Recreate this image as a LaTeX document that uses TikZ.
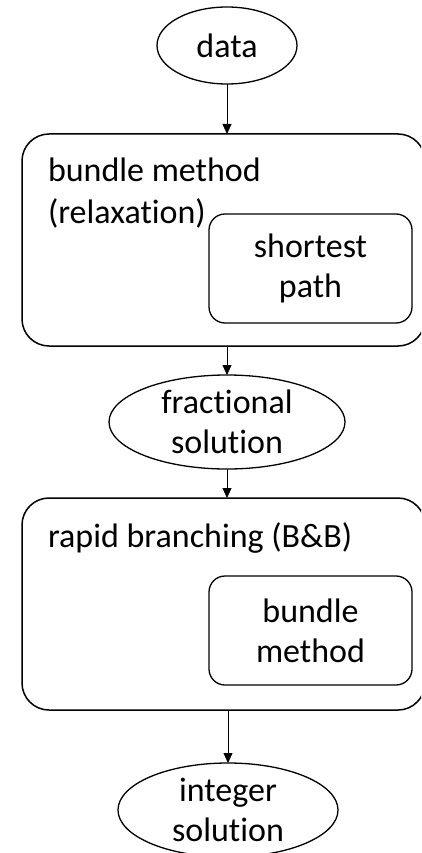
\documentclass[tikz,border=0pt]{standalone}
\usepackage{fontspec}
\setmainfont{Carlito}[Ligatures=NoCommon]
\usetikzlibrary{arrows.meta,shapes.geometric}
\begin{document}
\begin{tikzpicture}[x=1pt,y=-1pt,
  every node/.style={inner sep=0pt, outer sep=0pt},
  lbl/.style={font=\fontsize{34}{40}\selectfont},
  term/.style={draw, ellipse, line width=1.3pt, lbl, align=center},
  outerbox/.style={draw, rectangle, rounded corners=27pt, line width=1.5pt,
    minimum width=403pt, minimum height=212pt},
  innerbox/.style={draw, rectangle, rounded corners=16pt, line width=1.3pt,
    minimum width=203pt, minimum height=109pt, lbl, align=center},
  title/.style={lbl, anchor=base west},
  flow/.style={line width=0.8pt, -{Triangle[length=10pt,width=9pt]}}]
\useasboundingbox (0,0) rectangle (421,853);
\clip (0,0) rectangle (421,853);

% terminals
\node[term, minimum width=140pt, minimum height=77pt] (data) at (227,45.5) {data};
\node[term, minimum width=236pt, minimum height=94pt] (frac) at (227,422) {fractional\\solution};
\node[term, minimum width=220pt, minimum height=94pt] (intsol) at (228,810) {integer\\solution};

% relaxation stage
\node[outerbox] (box1) at (223.5,240) {};
\node[title] (t1a) at (48,182) {bundle method};
\node[title] (t1b) at (48,223) {(relaxation)};
\node[innerbox] (sp) at (310.5,268.5) {shortest\\path};

% branching stage
\node[outerbox] (box2) at (223.5,604) {};
\node[title] (t2) at (48,547) {rapid branching (B\&B)};
\node[innerbox] (bm) at (310.5,630.5) {bundle\\method};

% flow
\draw[flow] (data.south) -- (data.south |- box1.north);
\draw[flow] (frac.north |- box1.south) -- (frac.north);
\draw[flow] (frac.south) -- (frac.south |- box2.north);
\draw[flow] (intsol.north |- box2.south) -- (intsol.north);
\end{tikzpicture}
\end{document}
